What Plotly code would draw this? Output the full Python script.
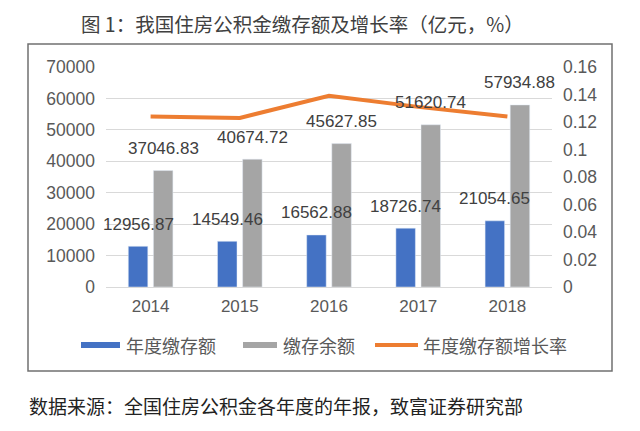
import plotly.graph_objects as go

years = ["2014", "2015", "2016", "2017", "2018"]
annual_deposit = [12956.87, 14549.46, 16562.88, 18726.74, 21054.65]
deposit_balance = [37046.83, 40674.72, 45627.85, 51620.74, 57934.88]
growth_rate = [0.124, 0.123, 0.139, 0.131, 0.124]

title_text = "图 1：我国住房公积金缴存额及增长率（亿元，%）"
source_text = "数据来源：全国住房公积金各年度的年报，致富证券研究部"
legend_names = ["年度缴存额", "缴存余额", "年度缴存额增长率"]

BLUE = "#4472C4"
GREY = "#A5A5A5"
ORANGE = "#ED7D31"
NUM_FONT = "Liberation Sans, Arial, sans-serif"
CJK_FONT = "Noto Sans CJK SC, sans-serif"

# page body has an 8px margin; work in screen pixels and offset
OFF = 8
SW, SH = 640, 431
W, H = SW - OFF, SH - OFF
PL, PR, PT, PB = 106, 552, 67, 287  # plot area in screen pixels
L, T = PL - OFF, PT - OFF
R, B = W - (PR - OFF), H - (PB - OFF)
PW, PH = PR - PL, PB - PT


def px(x):
    return (x - PL) / PW


def py(y):
    return (PB - y) / PH


fig = go.Figure()
fig.add_trace(go.Bar(x=years, y=annual_deposit, name=legend_names[0],
                     marker_color=BLUE, showlegend=False))
fig.add_trace(go.Bar(x=years, y=deposit_balance, name=legend_names[1],
                     marker_color=GREY, showlegend=False))
fig.add_trace(go.Scatter(x=years, y=growth_rate, name=legend_names[2], yaxis="y2",
                         mode="lines", line=dict(color=ORANGE, width=4),
                         showlegend=False))

annotations = []
for i, v in enumerate(annual_deposit):
    annotations.append(dict(x=i, y=v, xref="x", yref="y", text=f"{v:.2f}",
                            showarrow=False, xshift=-12.5, yshift=22,
                            font=dict(family=NUM_FONT, size=17, color="#404040")))
for i, v in enumerate(deposit_balance):
    annotations.append(dict(x=i, y=v, xref="x", yref="y", text=f"{v:.2f}",
                            showarrow=False, xshift=12.5, yshift=22,
                            font=dict(family=NUM_FONT, size=17, color="#404040")))

annotations.append(dict(x=px(302), y=py(OFF), xref="paper", yref="paper", text=title_text,
                        showarrow=False, xanchor="center", yanchor="top", borderpad=0,
                        font=dict(family=CJK_FONT, size=19.5, color="#404040")))
annotations.append(dict(x=px(27), y=py(405), xref="paper", yref="paper", text=source_text,
                        showarrow=False, xanchor="left", yanchor="middle",
                        font=dict(family=CJK_FONT, size=19, color="#222222")))

shapes = [dict(type="rect", xref="paper", yref="paper", x0=px(28), x1=px(612),
               y0=py(371), y1=py(44), line=dict(color="#707070", width=1.5),
               fillcolor="rgba(0,0,0,0)", layer="below")]

# custom legend
leg_y = 345
items = [(81, 120, BLUE, "bar", 124, legend_names[0]),
         (243, 277, GREY, "bar", 281, legend_names[1]),
         (375, 418, ORANGE, "line", 421, legend_names[2])]
for x0, x1, col, kind, tx, name in items:
    if kind == "bar":
        shapes.append(dict(type="rect", xref="paper", yref="paper", x0=px(x0), x1=px(x1),
                           y0=py(leg_y + 3), y1=py(leg_y - 3), line=dict(width=0),
                           fillcolor=col))
    else:
        shapes.append(dict(type="line", xref="paper", yref="paper", x0=px(x0), x1=px(x1),
                           y0=py(leg_y), y1=py(leg_y), line=dict(color=col, width=4)))
    annotations.append(dict(x=px(tx), y=py(leg_y), xref="paper", yref="paper", text=name,
                            showarrow=False, xanchor="left", yanchor="middle",
                            font=dict(family=CJK_FONT, size=18, color="#595959")))

fig.update_layout(
    width=W, height=H,
    margin=dict(l=L, r=R, t=T, b=B, pad=0),
    paper_bgcolor="white", plot_bgcolor="white",
    barmode="group", bargap=0.437, bargroupgap=0.223,
    showlegend=False,
    xaxis=dict(type="category", categoryorder="array", categoryarray=years,
               range=[-0.5, len(years) - 0.5], showgrid=False, showline=True,
               linecolor="#D9D9D9", ticks="", ticklabelstandoff=4,
               tickfont=dict(family=NUM_FONT, size=17, color="#595959")),
    yaxis=dict(range=[0, 70000], dtick=10000, tickformat="d", showgrid=True,
               gridcolor="#D9D9D9", gridwidth=1, zeroline=False, showline=False,
               ticks="", ticklabelstandoff=10,
               tickfont=dict(family=NUM_FONT, size=17.5, color="#595959")),
    yaxis2=dict(range=[0, 0.16], dtick=0.02, overlaying="y", side="right",
                showgrid=False, zeroline=False, showline=False, ticks="",
                ticklabelstandoff=10,
                tickfont=dict(family=NUM_FONT, size=17.5, color="#595959")),
    annotations=annotations,
    shapes=shapes,
)

fig.write_html("out.html")
